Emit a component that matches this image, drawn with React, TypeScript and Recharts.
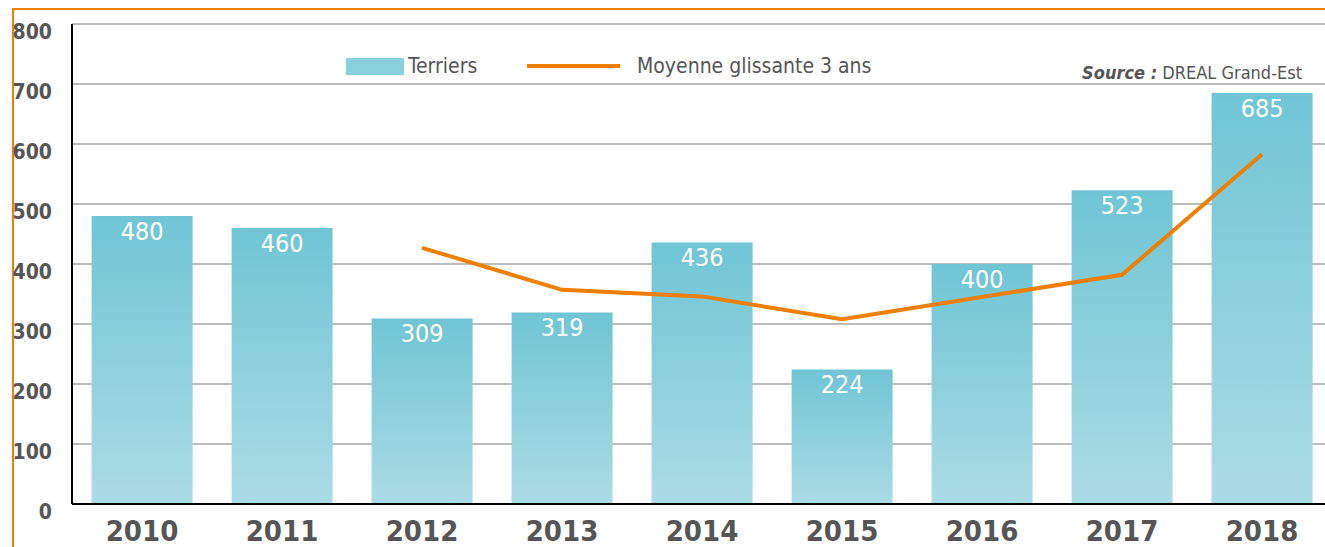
import React from "react";
import {
  ComposedChart,
  Bar,
  Line,
  XAxis,
  YAxis,
  CartesianGrid,
  LabelList,
} from "recharts";

const years = ["2010", "2011", "2012", "2013", "2014", "2015", "2016", "2017", "2018"];
const terriers = [480, 460, 309, 319, 436, 224, 400, 523, 685];
const moyenne: (number | null)[] = [null, null, 427, 357, 346, 308, 345, 382, 583];
const yTicks = [0, 100, 200, 300, 400, 500, 600, 700, 800];

const data = years.map((y, i) => ({ year: y, terriers: terriers[i], moyenne: moyenne[i] }));

const FONT = "'DejaVu Sans Condensed', 'Liberation Sans Narrow', 'Open Sans', sans-serif";
const GRAY = "#555555";
const ORANGE = "#EE7F00";

const YTick = (props: any) => {
  const { x, y, payload } = props;
  return (
    <text x={x - 12} y={y + 8} dy="0.35em" textAnchor="end" fill={GRAY} fontFamily={FONT} fontStretch="condensed" fontWeight="bold" fontSize={21}>
      {payload.value}
    </text>
  );
};

const XTick = (props: any) => {
  const { x, payload } = props;
  return (
    <text x={x} y={531} dy="0.35em" textAnchor="middle" fill={GRAY} fontFamily={FONT} fontStretch="condensed" fontWeight="bold" fontSize={29}>
      {payload.value}
    </text>
  );
};

export default function App() {
  return (
    <div style={{ position: "absolute", left: 0, top: 0, width: 1325, height: 547, background: "#fff", overflow: "hidden" }}>
      <div
        style={{
          position: "absolute",
          left: 12,
          top: 8,
          width: 1400,
          height: 600,
          border: `2px solid ${ORANGE}`,
          boxSizing: "border-box",
        }}
      />
      <ComposedChart
        width={1340}
        height={547}
        data={data}
        margin={{ top: 24, right: 8, bottom: 0, left: 12 }}
        barCategoryGap="14%"
        style={{ position: "absolute", left: 0, top: 0 }}
      >
        <defs>
          <linearGradient id="barGrad" x1="0" y1="0" x2="0" y2="1">
            <stop offset="0%" stopColor="#70C5D5" />
            <stop offset="100%" stopColor="#ABDCE5" />
          </linearGradient>
        </defs>
        <CartesianGrid vertical={false} stroke="#BDBDBD" strokeWidth={2} />
        <XAxis
          dataKey="year"
          height={43}
          tick={<XTick />}
          tickLine={false}
          axisLine={{ stroke: "#000", strokeWidth: 2 }}
          interval={0}
        />
        <YAxis
          domain={[0, 800]}
          ticks={yTicks}
          width={60}
          tick={<YTick />}
          tickLine={false}
          axisLine={{ stroke: "#000", strokeWidth: 2 }}
          allowDataOverflow
        />
        <Bar dataKey="terriers" fill="url(#barGrad)" isAnimationActive={false}>
          <LabelList
            dataKey="terriers"
            position="insideTop"
            offset={6}
            fill="#FFFFFF"
            fontFamily={FONT}
            fontStretch="condensed"
            fontSize={25}
          />
        </Bar>
        <Line
          dataKey="moyenne"
          stroke={ORANGE}
          strokeWidth={4}
          dot={false}
          activeDot={false}
          connectNulls={false}
          isAnimationActive={false}
          type="linear"
        />
      </ComposedChart>
      <div style={{ position: "absolute", left: 346, top: 58, width: 58, height: 17, background: "#8ACFDC" }} />
      <div style={{ position: "absolute", left: 408, top: 51, fontSize: 21, lineHeight: "30px", fontFamily: FONT, fontStretch: "condensed", color: GRAY }}>Terriers</div>
      <div style={{ position: "absolute", left: 527, top: 64, width: 93, height: 4, background: ORANGE }} />
      <div style={{ position: "absolute", left: 637, top: 51, fontSize: 21, lineHeight: "30px", fontFamily: FONT, fontStretch: "condensed", color: GRAY }}>Moyenne glissante 3 ans</div>
      <div
        style={{
          position: "absolute",
          right: 23,
          top: 62,
          fontFamily: FONT,
          fontStretch: "condensed",
          fontSize: 18,
          color: GRAY,
          whiteSpace: "nowrap",
        }}
      >
        <span style={{ fontWeight: "bold", fontStyle: "italic" }}>Source :</span> DREAL Grand-Est
      </div>
    </div>
  );
}
